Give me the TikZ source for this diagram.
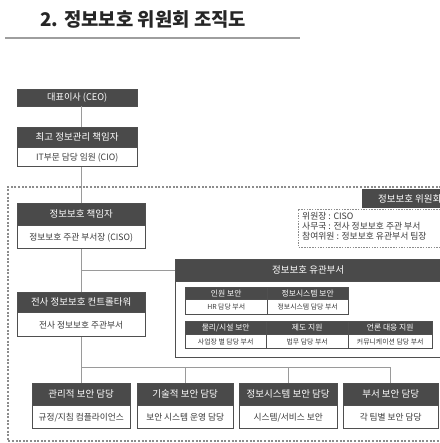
\documentclass[tikz,border=0pt]{standalone}
\usepackage{fontspec}
\setmainfont{Noto Sans CJK KR}
\usepackage{tikz}
\usetikzlibrary{positioning, calc}

\definecolor{hdrgray}{HTML}{4A4A4A}
\definecolor{boxline}{HTML}{4F4F4F}
\definecolor{linkgray}{HTML}{9A9A9A}
\definecolor{dashgray}{HTML}{8C8C8C}
\definecolor{txtgray}{HTML}{3A3A3A}

\begin{document}
\begin{tikzpicture}[
    x=1pt, y=-1pt,
    hdr/.style={rectangle, draw=boxline, fill=hdrgray, text=white, inner sep=0pt, anchor=north west,
        font=\fontsize{9.5}{11}\selectfont},
    bdy/.style={rectangle, draw=boxline, fill=white, text=txtgray, inner sep=0pt, line width=0.8pt,
        font=\fontsize{8.7}{10}\selectfont},
    cellhdr/.style={hdr, font=\fontsize{7.8}{9}\selectfont},
    cellbdy/.style={bdy, font=\fontsize{6.9}{8}\selectfont},
    link/.style={draw=linkgray, line width=0.9pt},
    frame/.style={draw=dashgray, line width=1.1pt, dash pattern=on 2pt off 1.6pt}
    ]
    \useasboundingbox (0,0) rectangle (439,443);

    % Title
    \node[anchor=west, text=black!85, font=\bfseries\fontsize{18.8}{21}\selectfont] (title) at (37,19) {2. 정보보호 위원회 조직도};
    \draw[draw=black!38, line width=2.2pt] (5,38) -- (300,38);

    % Committee frame
    \draw[frame] (470,187) -- (8,187) -- (8,441) -- (470,441);
    \node[hdr, minimum width=95pt, minimum height=19pt, draw=none] (cmtehead) at (362,189) {정보보호 위원회};
    \draw[draw=dashgray, line width=0.8pt, dash pattern=on 1.5pt off 1.2pt] (470,209) -- (298,209) -- (298,247) -- (470,247);
    \node[anchor=north west, align=left, text=txtgray, inner sep=0pt, font=\fontsize{8.8}{10}\selectfont] (cmte) at (302,212)
        {위원장 : CISO\\사무국 : 전사 정보보호 주관 부서\\참여위원 : 정보보호 유관부서 팀장};

    % CEO
    \node[hdr, minimum width=120pt, minimum height=17pt, font=\fontsize{9.2}{10}\selectfont] (ceo) at (17,89) {대표이사 (CEO)};

    % CIO
    \node[hdr, minimum width=120pt, minimum height=20pt] (ciohead) at (17,127) {최고 정보관리 책임자};
    \node[bdy, minimum width=120pt, minimum height=19pt, below=0pt of ciohead] (cio) {IT부문 담당 임원 (CIO)};

    % CISO
    \node[hdr, minimum width=128pt, minimum height=22pt] (cisohead) at (17,203) {정보보호 책임자};
    \node[bdy, minimum width=128pt, minimum height=23pt, below=0pt of cisohead] (ciso) {정보보호 주관 부서장 (CISO)};

    % Control tower
    \node[hdr, minimum width=128pt, minimum height=20pt] (ctrlhead) at (17,292) {전사 정보보호 컨트롤타워};
    \node[bdy, minimum width=128pt, minimum height=24pt, below=0pt of ctrlhead] (ctrl) {전사 정보보호 주관부서};

    % Related departments
    \node[hdr, minimum width=290pt, minimum height=22pt] (relhead) at (175,259) {\hspace*{-24pt}정보보호 유관부서};
    \node[bdy, minimum width=290pt, minimum height=76pt, below=0pt of relhead] (rel) {};

    \node[cellhdr, minimum width=82pt, minimum height=12pt] (hrhead) at (185,287) {인원 보안};
    \node[cellbdy, minimum width=82pt, minimum height=15pt, below=0pt of hrhead] (hr) {HR 담당 부서};
    \node[cellhdr, minimum width=81pt, minimum height=12pt] (syshead) at (267,287) {정보시스템 보안};
    \node[cellbdy, minimum width=81pt, minimum height=15pt, below=0pt of syshead] (sys) {정보시스템 담당 부서};

    \node[cellhdr, minimum width=81pt, minimum height=13pt] (phyhead) at (185,321) {물리/시설 보안};
    \node[cellbdy, minimum width=81pt, minimum height=14pt, below=0pt of phyhead] (phy) {사업장 별 담당 부서};
    \node[cellhdr, minimum width=82pt, minimum height=13pt] (lawhead) at (266,321) {제도 지원};
    \node[cellbdy, minimum width=82pt, minimum height=14pt, below=0pt of lawhead] (law) {법무 담당 부서};
    \node[cellhdr, minimum width=84pt, minimum height=13pt] (prhead) at (348,321) {언론 대응 지원};
    \node[cellbdy, minimum width=84pt, minimum height=14pt, below=0pt of prhead] (pr) {커뮤니케이션 담당 부서};

    % Security officers
    \node[hdr, minimum width=98pt, minimum height=22pt] (admhead) at (32,383) {관리적 보안 담당};
    \node[bdy, minimum width=98pt, minimum height=23pt, below=0pt of admhead] (adm) {규정/지침 컴플라이언스};
    \node[hdr, minimum width=96pt, minimum height=22pt] (techhead) at (137,383) {기술적 보안 담당};
    \node[bdy, minimum width=96pt, minimum height=23pt, below=0pt of techhead] (tech) {보안 시스템 운영 담당};
    \node[hdr, minimum width=98pt, minimum height=22pt] (infhead) at (239,383) {정보시스템 보안 담당};
    \node[bdy, minimum width=98pt, minimum height=23pt, below=0pt of infhead] (inf) {시스템/서비스 보안};
    \node[hdr, minimum width=95pt, minimum height=22pt] (depthead) at (343,383) {부서 보안 담당};
    \node[bdy, minimum width=95pt, minimum height=23pt, below=0pt of depthead] (dept) {각 팀별 보안 담당};

    % Connectors
    \draw[link] (cisohead.north |- ceo.south) -- (cisohead.north |- ciohead.north);
    \draw[link] (cisohead.north |- cio.south) -- (cisohead.north);
    \draw[link] (ciso.south) -- (ctrlhead.north);
    \draw[link] (ciso.south |- relhead.west) -- (relhead.west);
    \coordinate (bus) at (0,367);
    \draw[link] (ctrl.south) -- (ctrl.south |- bus) -| (admhead.north);
    \draw[link] (ctrl.south |- bus) -| (techhead.north);
    \draw[link] (ctrl.south |- bus) -| (infhead.north);
    \draw[link] (ctrl.south |- bus) -| (depthead.north);

\end{tikzpicture}
\end{document}
